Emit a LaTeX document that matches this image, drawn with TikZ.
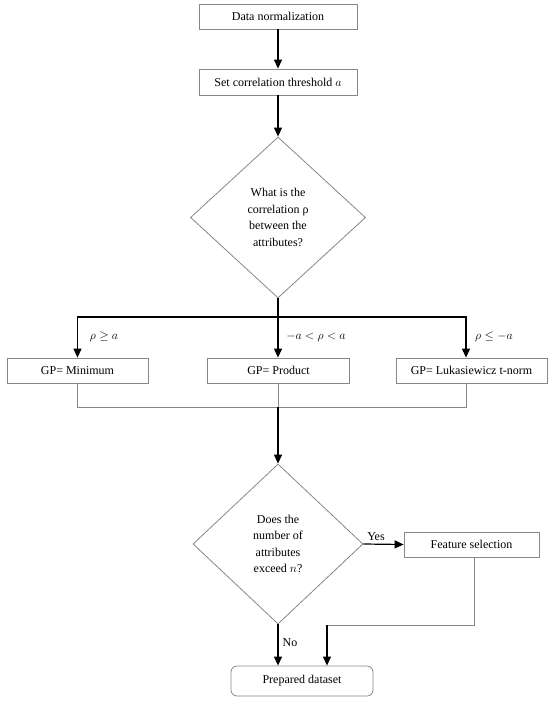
\documentclass[tikz,border=0pt]{standalone}
\usepackage{fontspec}
\setmainfont{Liberation Serif}
\usetikzlibrary{shapes.geometric,arrows.meta}
\definecolor{bordergray}{RGB}{135,135,135}
\tikzset{
  box/.style={draw=bordergray, line width=0.8pt, fill=white, inner sep=0pt, minimum height=25pt, font=\fontsize{12}{14}\selectfont},
  dec/.style={draw=bordergray, line width=0.8pt, shape=diamond, inner sep=0pt, aspect=1, align=center, font=\fontsize{12}{16.5}\selectfont},
  arr/.style={draw=black, line width=1.2pt, -{Triangle[length=9pt,width=8pt]}},
  gline/.style={draw=bordergray, line width=0.8pt},
  lbl/.style={font=\fontsize{12}{14}\selectfont, inner sep=0pt}
}
\begin{document}
\begin{tikzpicture}[x=1pt,y=-1pt]
\useasboundingbox (0,0) rectangle (550,703);
\node[box, minimum width=158pt] (n1) at (278,16.5) {Data normalization};
\node[box, minimum width=158pt, minimum height=26pt] (n2) at (278,82) {Set correlation threshold $a$};
\node[dec, minimum width=175pt, minimum height=161pt] (d1) at (278,217.5) {What is the\\correlation ρ\\between the\\attributes?};
\node[box, minimum width=141pt] (b1) at (77.5,370.5) {GP= Minimum};
\node[box, minimum width=142pt] (b2) at (278.5,370.5) {GP= Product};
\node[box, minimum width=151pt] (b3) at (471.5,370.5) {GP= Lukasiewicz t-norm};
\node[dec, minimum width=170pt, minimum height=160pt] (d2) at (278,544) {Does the\\number of\\attributes\\exceed $n$?};
\node[box, minimum width=135pt] (fs) at (471.5,544.5) {Feature selection};
\node[box, minimum width=142pt, minimum height=30pt, rounded corners=6pt] (pd) at (302,681) {Prepared dataset};

\node[lbl] (l1) at (104,337) {$\rho\geq a$};
\node[lbl] (l2) at (316,337) {$-a<\rho<a$};
\node[lbl] (l3) at (494,337) {$\rho\leq -a$};
\node[lbl] (ly) at (376,537) {Yes};
\node[lbl] (ln) at (290,643) {No};

\coordinate (j1) at (278,317);
\coordinate (j2) at (278,407);
\coordinate (r1) at (466,317);
\coordinate (f1) at (474,625);
\coordinate (f2) at (327,625);

\draw[arr] (n1) -- (n2);
\draw[arr] (n2) -- (d1);
\draw[line width=1.2pt] (d1.south) -- (j1);
\draw[arr] (j1) -| (b1.north);
\draw[arr] (j1) -- (j1 |- b2.north);
\draw[arr] (j1) -- (r1) -- (r1 |- b3.north);

\draw[gline] (b1.south) |- (j2);
\draw[gline] (j2 |- b2.south) -- (j2);
\draw[gline] (r1 |- b3.south) |- (j2);
\draw[arr] (j2) -- (d2.north);

\draw[arr] (d2.east) -- (fs.west);
\draw[gline] (f1 |- fs.south) -- (f1) -- (f2);
\draw[arr] (f2) -- (f2 |- pd.north);
\draw[arr] (d2.south) -- (d2.south |- pd.north);
\end{tikzpicture}
\end{document}
